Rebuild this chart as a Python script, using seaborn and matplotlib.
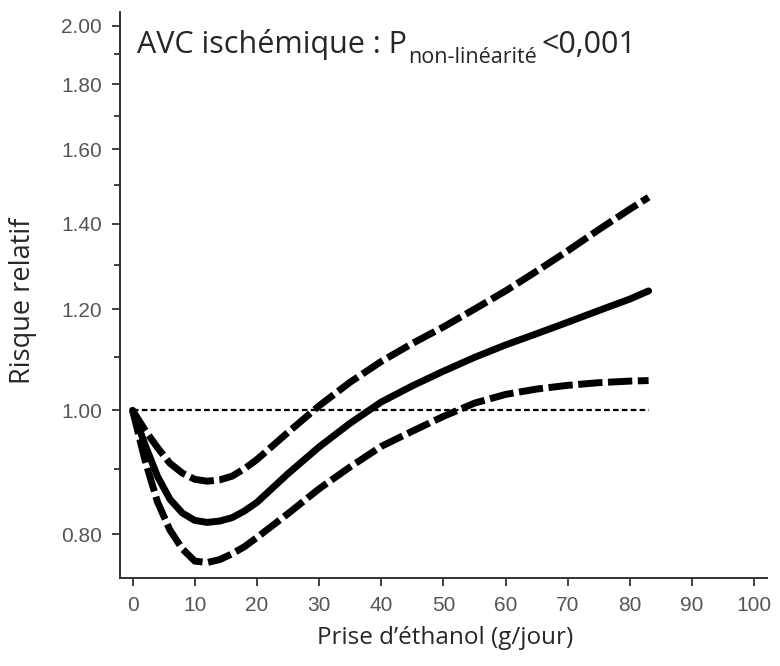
import matplotlib
matplotlib.use("Agg")
import matplotlib.pyplot as plt
from matplotlib.ticker import FixedLocator, FixedFormatter, NullFormatter
import seaborn as sns

# dose (g/day) and relative risk
x_dose = [0, 2, 4, 6, 8, 10, 12, 14, 16, 18, 20, 25, 30, 35, 40, 45, 50, 55, 60, 65, 70, 75, 80, 83]
rr_central = [1.0, 0.94, 0.888, 0.852, 0.831, 0.820, 0.817, 0.819, 0.824, 0.834, 0.847, 0.892,
              0.936, 0.977, 1.015, 1.045, 1.073, 1.100, 1.125, 1.148, 1.172, 1.197, 1.222, 1.240]
rr_upper = [1.0, 0.965, 0.935, 0.909, 0.893, 0.883, 0.880, 0.882, 0.888, 0.900, 0.915, 0.961,
            1.008, 1.052, 1.092, 1.128, 1.162, 1.200, 1.240, 1.285, 1.333, 1.385, 1.437, 1.468]
rr_lower = [1.0, 0.914, 0.848, 0.806, 0.779, 0.762, 0.760, 0.764, 0.772, 0.782, 0.795, 0.830,
            0.868, 0.903, 0.937, 0.963, 0.989, 1.013, 1.029, 1.039, 1.046, 1.051, 1.054, 1.055]
ref_x = [0, 83]
ref_y = [1.0, 1.0]

y_ticks = [0.80, 1.00, 1.20, 1.40, 1.60, 1.80, 2.00]
y_labels = ["0.80", "1.00", "1.20", "1.40", "1.60", "1.80", "2.00"]
y_minor = [0.90, 1.10, 1.30, 1.50, 1.70, 1.90]
x_ticks = [0, 10, 20, 30, 40, 50, 60, 70, 80, 90, 100]

sns.set_theme(style="white")
plt.rcParams["font.family"] = ["Liberation Sans", "DejaVu Sans"]
label_font = ["Open Sans", "DejaVu Sans"]

fig = plt.figure(figsize=(7.8, 6.66), dpi=100)
ax = fig.add_axes([0.154, 0.132, 0.829, 0.85])

sns.lineplot(x=ref_x, y=ref_y, ax=ax, color="black", lw=1.6, linestyle=(0, (2.5, 1.5)))
sns.lineplot(x=x_dose, y=rr_upper, ax=ax, color="black", lw=5, linestyle=(0, (3.5, 0.8)))
sns.lineplot(x=x_dose, y=rr_lower, ax=ax, color="black", lw=5, linestyle=(0, (3.5, 0.8)))
sns.lineplot(x=x_dose, y=rr_central, ax=ax, color="black", lw=5)

ax.set_yscale("log")
ax.set_ylim(0.739, 2.05)
ax.set_xlim(-2, 102)
ax.yaxis.set_major_locator(FixedLocator(y_ticks))
ax.yaxis.set_major_formatter(FixedFormatter(y_labels))
ax.yaxis.set_minor_locator(FixedLocator(y_minor))
ax.yaxis.set_minor_formatter(NullFormatter())
ax.set_xticks(x_ticks)
ax.set_xticklabels([str(v) for v in x_ticks])

sns.despine(ax=ax)
for side in ["left", "bottom"]:
    ax.spines[side].set_color("#333333")
    ax.spines[side].set_linewidth(1.4)
ax.tick_params(axis="both", which="both", direction="out", left=True, bottom=True,
               color="#333333", width=1.3, labelcolor="#555555", labelsize=15)
ax.tick_params(axis="both", which="major", length=6, pad=7)
ax.tick_params(axis="y", which="minor", length=4)

ax.set_xlabel("Prise d’éthanol (g/jour)", fontsize=17.5, family=label_font)
ax.set_ylabel("Risque relatif", fontsize=19.5, family=label_font)
ax.xaxis.set_label_coords(0.502, -0.085)
ax.yaxis.set_label_coords(-0.128, 0.49)

t1 = fig.text(137 / 780, 1 - 53 / 666, "AVC ischémique : P", fontsize=22,
              family=label_font, va="baseline", ha="left")
t2 = ax.annotate("non-linéarité", xy=(1, 0), xycoords=t1, xytext=(1, -6),
                 textcoords="offset points", fontsize=15.5, family=label_font,
                 va="bottom", ha="left")
ax.annotate("<0,001", xy=(1, 0), xycoords=(t2, t1), xytext=(3, 0),
            textcoords="offset points", fontsize=22, family=label_font,
            va="bottom", ha="left")

fig.savefig("out.png", dpi=100)
